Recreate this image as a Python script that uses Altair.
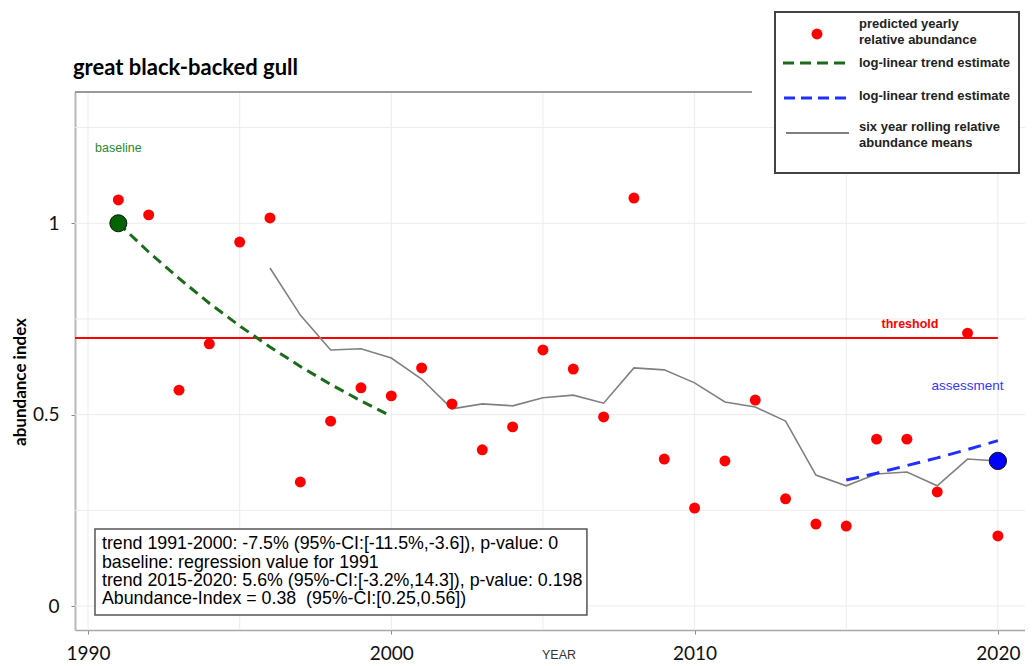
import altair as alt
import pandas as pd

# ---------------- data ----------------
years = list(range(1991, 2021))
abundance = [1.061, 1.022, 0.564, 0.685, 0.951, 1.014, 0.324, 0.483, 0.570, 0.549,
             0.622, 0.528, 0.408, 0.468, 0.669, 0.619, 0.494, 1.066, 0.384, 0.256,
             0.379, 0.538, 0.280, 0.214, 0.209, 0.436, 0.436, 0.298, 0.713, 0.183]

roll_years = list(range(1996, 2021))
roll_means = [0.883, 0.760, 0.669, 0.672, 0.648, 0.593, 0.515, 0.528, 0.523, 0.544,
              0.551, 0.530, 0.622, 0.617, 0.583, 0.533, 0.520, 0.483, 0.342, 0.314,
              0.345, 0.350, 0.314, 0.384, 0.379]

trend1_years = list(range(1991, 2001))
trend1_values = [1.000, 0.925, 0.856, 0.791, 0.732, 0.677, 0.626, 0.579, 0.536, 0.496]

trend2_years = list(range(2015, 2021))
trend2_values = [0.329, 0.347, 0.367, 0.387, 0.409, 0.432]

baseline_year = [1991]
baseline_value = [1.0]
assess_year = [2020]
assess_value = [0.379]

threshold_value = 0.7
threshold_x = [1989.571, 2020]

x_ticks = [1990, 2000, 2010, 2020]
y_ticks = [0, 0.5, 1]
x_grid = [1990, 1995, 2000, 2005, 2010, 2015, 2020]
y_grid = [0, 0.25, 0.5, 0.75, 1.0, 1.25]

x_domain = [1989.571, 2020.894]
y_domain = [-0.0627, 1.343]

stats_lines = [
    "trend 1991-2000: -7.5% (95%-CI:[-11.5%,-3.6]), p-value: 0",
    "baseline: regression value for 1991",
    "trend 2015-2020: 5.6% (95%-CI:[-3.2%,14.3]), p-value: 0.198",
    "Abundance-Index = 0.38 \u00a0(95%-CI:[0.25,0.56])",
]
stats_box = {"x": 1990.23, "x2": 2006.45, "y": 0.201, "y2": -0.0235}
stats_text_pos = {"x": 1990.46, "y": 0.185}

labels = [
    {"text": "baseline", "x": 1991.0, "y": 1.197},
    {"text": "threshold", "x": 2017.1, "y": 0.737},
    {"text": "assessment", "x": 2019.0, "y": 0.575},
]

legend_texts = ["predicted yearly", "relative abundance", "log-linear trend estimate",
                "log-linear trend estimate", "six year rolling relative", "abundance means"]

# ---------------- scales / axes ----------------
xs = alt.Scale(domain=x_domain, nice=False, zero=False)
ys = alt.Scale(domain=y_domain, nice=False, zero=False)
xaxis = alt.Axis(values=x_ticks, title=None, grid=False, format="d", labelFlush=False,
                 labelFont="Lato", labelFontSize=19, labelColor="#111", labelPadding=10,
                 tickSize=4, tickColor="#888", domainColor="#a8a8a8", domainWidth=1.5)
yaxis = alt.Axis(values=y_ticks, title=None, grid=False, labelFont="Lato",
                 labelFontSize=19, labelColor="#111", labelPadding=12,
                 tickSize=4, tickColor="#888", domainColor="#b8b8b8", domainWidth=2,
                 labelExpr="datum.value == 0.5 ? '0.5' : format(datum.value, 'd')")

def X(f):
    return alt.X(f, type="quantitative", scale=xs, axis=xaxis)

def Y(f):
    return alt.Y(f, type="quantitative", scale=ys, axis=yaxis)

one = pd.DataFrame({"k": [0]})

pts = pd.DataFrame({"year": years, "v": abundance})
roll = pd.DataFrame({"year": roll_years, "v": roll_means})
t1 = pd.DataFrame({"year": trend1_years, "v": trend1_values})
t2 = pd.DataFrame({"year": trend2_years, "v": trend2_values})
bdot = pd.DataFrame({"year": baseline_year, "v": baseline_value})
adot = pd.DataFrame({"year": assess_year, "v": assess_value})
thr = pd.DataFrame({"year": threshold_x, "v": [threshold_value] * len(threshold_x)})
xg = pd.DataFrame({"g": x_grid})
yg = pd.DataFrame({"g": y_grid})
box = pd.DataFrame([stats_box])
stxt = pd.DataFrame([{**stats_text_pos, "t": "\n".join(stats_lines)}])
lab = pd.DataFrame(labels)

grid_x = alt.Chart(xg).mark_rule(color="#ececec", strokeWidth=1).encode(x=X("g"))
grid_y = alt.Chart(yg).mark_rule(color="#ececec", strokeWidth=1).encode(y=Y("g"))

top_border = alt.Chart(one).mark_rule(color="#9a9a9a", strokeWidth=2).encode(
    x=alt.value(0), x2=alt.value(677), y=alt.value(0))

threshold = alt.Chart(thr).mark_line(color="#ff0000", strokeWidth=2).encode(
    x=X("year"), y=Y("v"))

trend1 = alt.Chart(t1).mark_line(color="#1a6b1a", strokeWidth=3, strokeDash=[10, 6]).encode(
    x=X("year"), y=Y("v"))
rolling = alt.Chart(roll).mark_line(color="#808080", strokeWidth=1.6).encode(
    x=X("year"), y=Y("v"))
trend2 = alt.Chart(t2).mark_line(color="#1f2fff", strokeWidth=3, strokeDash=[13, 8]).encode(
    x=X("year"), y=Y("v"))

points = alt.Chart(pts).mark_circle(color="#ff0000", size=120, opacity=1).encode(
    x=X("year"), y=Y("v"))
base_pt = alt.Chart(bdot).mark_point(filled=True, shape="circle", fill="#006400",
                                     stroke="#111", strokeWidth=1, size=290, opacity=1).encode(
    x=X("year"), y=Y("v"))
assess_pt = alt.Chart(adot).mark_point(filled=True, shape="circle", fill="#0000ff",
                                       stroke="#111", strokeWidth=1, size=300, opacity=1).encode(
    x=X("year"), y=Y("v"))

lab_base = alt.Chart(lab.iloc[[0]]).mark_text(font="Liberation Sans", fontSize=12.5,
                                              color="#2a8a2a", align="center", baseline="middle").encode(
    x=X("x"), y=Y("y"), text="text:N")
lab_thr = alt.Chart(lab.iloc[[1]]).mark_text(font="Liberation Sans", fontSize=12.5, fontWeight="bold",
                                             color="#ff0000", align="center", baseline="middle").encode(
    x=X("x"), y=Y("y"), text="text:N")
lab_ass = alt.Chart(lab.iloc[[2]]).mark_text(font="Liberation Sans", fontSize=13.5,
                                             color="#3535ff", align="center", baseline="middle").encode(
    x=X("x"), y=Y("y"), text="text:N")

stats_rect = alt.Chart(box).mark_rect(fill="white", stroke="#555", strokeWidth=1.5).encode(
    x=X("x"), x2="x2", y=Y("y"), y2="y2")
stats_text = alt.Chart(stxt).mark_text(font="Liberation Sans", fontSize=17.8, color="#000",
                                       align="left", baseline="top", lineBreak="\n",
                                       lineHeight=18.4).encode(
    x=X("x"), y=Y("y"), text="t:N")

# ---------------- legend (manual) ----------------
def vtext(t, x, y):
    return alt.Chart(one).mark_text(text=t, font="Liberation Sans", fontSize=13,
                                    fontWeight="bold", color="#222", align="left",
                                    baseline="middle").encode(x=alt.value(x), y=alt.value(y))

leg_box = alt.Chart(one).mark_rect(fill="white", stroke="#444", strokeWidth=2).encode(
    x=alt.value(700), x2=alt.value(944), y=alt.value(-80), y2=alt.value(81))
leg_dot = alt.Chart(one).mark_circle(color="#ff0000", size=120, opacity=1).encode(
    x=alt.value(742), y=alt.value(-58))
leg_g = alt.Chart(one).mark_rule(color="#1a6b1a", strokeWidth=3, strokeDash=[11, 6]).encode(
    x=alt.value(708), x2=alt.value(771), y=alt.value(-29))
leg_b = alt.Chart(one).mark_rule(color="#1f2fff", strokeWidth=3, strokeDash=[11, 6]).encode(
    x=alt.value(709), x2=alt.value(772), y=alt.value(6))
leg_k = alt.Chart(one).mark_rule(color="#555", strokeWidth=1.5).encode(
    x=alt.value(711), x2=alt.value(774), y=alt.value(41))
leg_t = [vtext(legend_texts[0], 784, -68), vtext(legend_texts[1], 784, -52),
         vtext(legend_texts[2], 784, -29), vtext(legend_texts[3], 784, 4),
         vtext(legend_texts[4], 784, 35), vtext(legend_texts[5], 784, 51)]

# ---------------- titles ----------------
title = alt.Chart(one).mark_text(text="great black-backed gull", font="Lato", fontSize=22,
                                 fontWeight="bold", color="#000", align="left",
                                 baseline="alphabetic").encode(x=alt.value(-2), y=alt.value(-17))
ytitle = alt.Chart(one).mark_text(text="abundance index", font="Lato", fontSize=17,
                                  fontWeight="bold", color="#000", align="center",
                                  baseline="middle", angle=270).encode(
    x=alt.value(-54), y=alt.value(290))
xtitle = alt.Chart(one).mark_text(text="YEAR", font="Liberation Sans", fontSize=12.5,
                                  color="#333", align="center", baseline="middle").encode(
    x=alt.value(484), y=alt.value(563))

chart = alt.layer(
    grid_x, grid_y, top_border, threshold, trend1, rolling, trend2,
    points, base_pt, assess_pt, lab_base, lab_thr, lab_ass,
    stats_rect, stats_text, leg_box, leg_dot, leg_g, leg_b, leg_k, *leg_t,
    title, ytitle, xtitle,
).properties(
    width=950, height=538,
    autosize=alt.AutoSizeParams(type="none"),
    padding={"left": 67, "top": 84, "right": 0, "bottom": 32},
    background="white",
).configure_view(stroke=None)

chart.save("out.html", embed_options={"renderer": "svg", "actions": False})
